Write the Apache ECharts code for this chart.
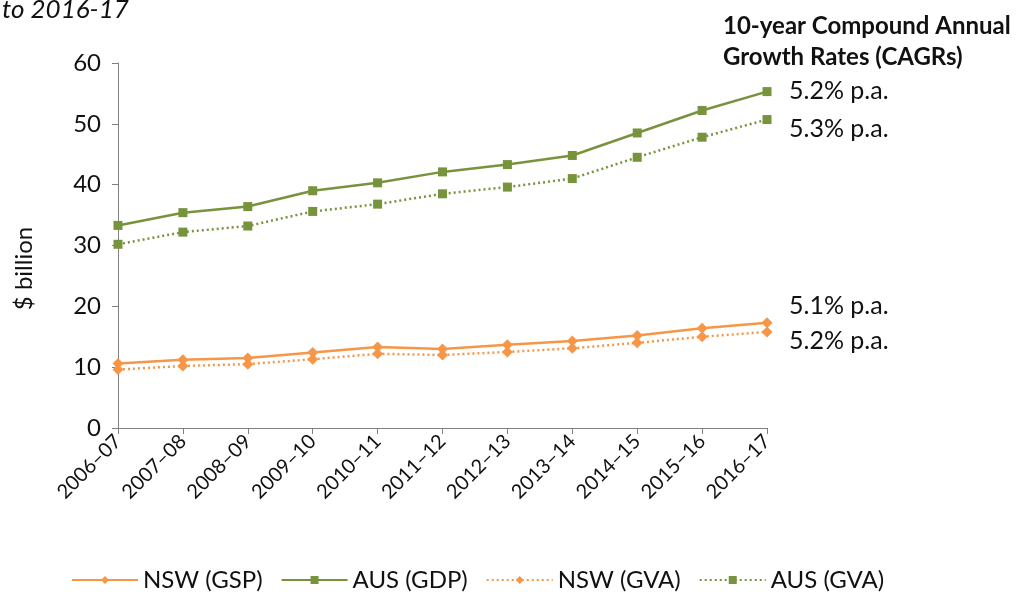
<!DOCTYPE html>
<html>
<head>
<meta charset="utf-8">
<script src="https://cdn.jsdelivr.net/npm/echarts@6/dist/echarts.min.js"></script>
<style>
  html, body { margin: 0; padding: 0; background: #fff; }
  #chart { width: 1021px; height: 594px; }
</style>
</head>
<body>
<div id="chart"></div>
<script>
// Financial years on the category axis
const years = ['2006–07', '2007–08', '2008–09', '2009–10', '2010–11', '2011–12',
               '2012–13', '2013–14', '2014–15', '2015–16', '2016–17'];

// $ billion
const nswGSP = [10.6, 11.2, 11.5, 12.4, 13.3, 13.0, 13.7, 14.3, 15.2, 16.4, 17.3];
const ausGDP = [33.3, 35.4, 36.4, 39.0, 40.3, 42.1, 43.3, 44.8, 48.5, 52.2, 55.3];
const nswGVA = [9.6, 10.2, 10.5, 11.3, 12.2, 12.0, 12.5, 13.1, 14.0, 15.0, 15.8];
const ausGVA = [30.2, 32.2, 33.2, 35.6, 36.8, 38.5, 39.6, 41.0, 44.5, 47.8, 50.7];

// 10-year CAGR for each series
const cagrGSP = '5.1% p.a.';
const cagrGDP = '5.2% p.a.';
const cagrNswGVA = '5.2% p.a.';
const cagrAusGVA = '5.3% p.a.';

const yTicks = [0, 10, 20, 30, 40, 50, 60];

const ORANGE = '#F79646';
const GREEN = '#77933C';
const FONT = 'Lato, "Open Sans", sans-serif';

function makeSeries(name, data, color, symbol, size, dotted, cagr, dy) {
  return {
    name: name,
    type: 'line',
    data: data,
    symbol: symbol,
    symbolSize: size,
    showAllSymbol: true,
    lineStyle: { color: color, width: 2.5, type: dotted ? [2, 3] : 'solid' },
    itemStyle: { color: color },
    emphasis: { disabled: true },
    endLabel: {
      show: true,
      formatter: () => cagr,
      color: '#111',
      fontFamily: FONT,
      fontSize: 25,
      distance: 22,
      offset: [0, dy]
    }
  };
}

const chart = echarts.init(document.getElementById('chart'));
chart.setOption({
  animation: false,
  textStyle: { fontFamily: FONT },
  grid: { left: 118, right: 254, top: 63, bottom: 166, containLabel: false },
  xAxis: {
    type: 'category',
    data: years,
    boundaryGap: false,
    axisLine: { lineStyle: { color: '#808080', width: 1 } },
    axisTick: { show: true, length: 6, alignWithLabel: true, lineStyle: { color: '#808080' } },
    axisLabel: {
      rotate: 45, color: '#111', fontSize: 20, fontFamily: FONT, margin: 10, interval: 0
    },
    splitLine: { show: false }
  },
  yAxis: {
    type: 'value',
    min: yTicks[0],
    max: yTicks[yTicks.length - 1],
    interval: 10,
    name: '$ billion',
    nameLocation: 'middle',
    nameGap: 82,
    nameRotate: 90,
    nameTextStyle: { color: '#111', fontSize: 24, fontFamily: FONT, padding: [0, 46, 0, 0] },
    axisLine: { show: true, lineStyle: { color: '#808080', width: 1 } },
    axisTick: { show: true, length: 6, lineStyle: { color: '#808080' } },
    axisLabel: { color: '#111', fontSize: 24, fontFamily: FONT, margin: 17 },
    splitLine: { show: false }
  },
  legend: {
    bottom: -3,
    left: 66,
    itemWidth: 66,
    itemHeight: 10,
    itemGap: 18,
    textStyle: { color: '#111', fontSize: 24, fontFamily: FONT },
    data: ['NSW (GSP)', 'AUS (GDP)', 'NSW (GVA)', 'AUS (GVA)']
  },
  graphic: [
    {
      type: 'text',
      left: 2, top: -3,
      style: { text: 'to 2016-17', font: 'italic 26px ' + FONT, fill: '#111' }
    },
    {
      type: 'text',
      left: 723, top: 11,
      style: {
        text: '10-year Compound Annual\nGrowth Rates (CAGRs)',
        font: 'bold 24px ' + FONT, fill: '#111', lineHeight: 31
      }
    }
  ],
  series: [
    makeSeries('NSW (GSP)', nswGSP, ORANGE, 'diamond', 11, false, cagrGSP, -17),
    makeSeries('AUS (GDP)', ausGDP, GREEN, 'rect', 9, false, cagrGDP, -1),
    makeSeries('NSW (GVA)', nswGVA, ORANGE, 'diamond', 11, true, cagrNswGVA, 9),
    makeSeries('AUS (GVA)', ausGVA, GREEN, 'rect', 9, true, cagrAusGVA, 9)
  ]
});
</script>
</body>
</html>
